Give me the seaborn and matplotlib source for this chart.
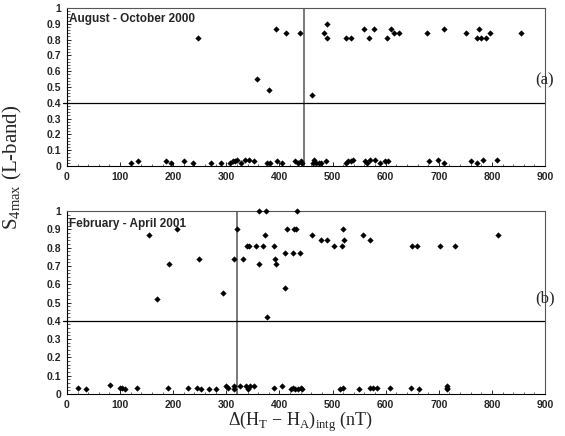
import numpy as np
import pandas as pd
import matplotlib
matplotlib.use("Agg")
import matplotlib.pyplot as plt
import seaborn as sns
from matplotlib.ticker import MultipleLocator, FuncFormatter

# panel (a): August - October 2000
a_x_high = [246, 357, 381, 393, 413, 438, 462, 484, 489, 489, 526, 534, 560, 568, 578,
            603, 610, 616, 625, 677, 710, 752, 776, 772, 779, 788, 796, 854]
a_y_high = [0.81, 0.55, 0.48, 0.87, 0.84, 0.84, 0.45, 0.84, 0.90, 0.81, 0.81, 0.81, 0.87, 0.81, 0.87,
            0.81, 0.87, 0.84, 0.84, 0.84, 0.87, 0.84, 0.87, 0.81, 0.81, 0.81, 0.84, 0.84]
a_x_low = [121, 134, 186, 195, 220, 238, 272, 290, 307, 312, 316, 320, 328, 336, 343, 352,
           376, 383, 396, 404, 430, 434, 440, 443, 465, 464, 469, 474, 478, 487, 525, 529,
           534, 539, 561, 564, 570, 579, 589, 599, 604, 682, 699, 710, 760, 772, 783, 809]
a_y_low = [0.02, 0.03, 0.03, 0.02, 0.03, 0.02, 0.02, 0.02, 0.02, 0.03, 0.03, 0.04, 0.02, 0.04, 0.04, 0.03,
           0.02, 0.02, 0.03, 0.02, 0.03, 0.02, 0.03, 0.02, 0.04, 0.02, 0.02, 0.02, 0.02, 0.03, 0.02, 0.03,
           0.03, 0.04, 0.03, 0.02, 0.04, 0.04, 0.02, 0.03, 0.03, 0.03, 0.04, 0.02, 0.03, 0.02, 0.04, 0.04]

# panel (b): February - April 2001
b_x_high = [154, 170, 192, 207, 248, 293, 315, 320, 331, 339, 343, 355, 361, 361, 369, 372,
            374, 376, 389, 391, 393, 411, 411, 414, 425, 427, 431, 433, 438, 461, 479, 489,
            503, 517, 520, 521, 557, 570, 649, 659, 703, 730, 811]
b_y_high = [0.87, 0.52, 0.71, 0.90, 0.74, 0.55, 0.74, 0.90, 0.74, 0.81, 0.81, 0.81, 1.00, 0.71, 0.81, 0.87,
            1.00, 0.42, 0.81, 0.74, 0.71, 0.58, 0.77, 0.90, 0.77, 0.90, 0.90, 1.00, 0.77, 0.87, 0.84, 0.84,
            0.81, 0.81, 0.90, 0.84, 0.87, 0.84, 0.81, 0.81, 0.81, 0.81, 0.87]
b_x_low = [21, 35, 81, 100, 104, 110, 131, 190, 227, 244, 253, 267, 280, 300, 304, 314, 315,
           326, 337, 340, 344, 352, 389, 405, 421, 425, 429, 435, 441, 443, 514, 519, 550,
           570, 577, 584, 609, 648, 662, 716, 716, 715]
b_y_low = [0.035, 0.03, 0.05, 0.035, 0.035, 0.03, 0.035, 0.035, 0.035, 0.035, 0.03, 0.03, 0.03, 0.045, 0.035, 0.045, 0.03,
           0.045, 0.045, 0.03, 0.045, 0.045, 0.035, 0.045, 0.03, 0.035, 0.03, 0.03, 0.035, 0.03, 0.03, 0.035, 0.03,
           0.035, 0.035, 0.035, 0.035, 0.035, 0.03, 0.035, 0.045, 0.03]

a_threshold_x = 446
b_threshold_x = 320
s4_threshold = 0.4

sns.set_style("white")
plt.rcParams['font.family'] = ['Liberation Sans', 'DejaVu Sans']
plt.rcParams['mathtext.fontset'] = 'custom'
plt.rcParams['mathtext.rm'] = 'Liberation Serif'
serif = ["Liberation Serif", "DejaVu Serif"]

fig = plt.figure(figsize=(5.65, 4.36), dpi=100)
ax1 = fig.add_axes([67 / 565, 1 - 166 / 436, 478 / 565, 158 / 436])
ax2 = fig.add_axes([67 / 565, 1 - 394 / 436, 478 / 565, 183 / 436])

panels = [
    (ax1, a_x_high + a_x_low, a_y_high + a_y_low, a_threshold_x, "August - October 2000", "(a)", 0.54),
    (ax2, b_x_high + b_x_low, b_y_high + b_y_low, b_threshold_x, "February - April 2001", "(b)", 0.52),
]

fmt = FuncFormatter(lambda v, p: "0" if abs(v) < 1e-9 else ("1" if abs(v - 1) < 1e-9 else f"{v:.1f}"))

for ax, xs, ys, xv, title, tag, tag_y in panels:
    df = pd.DataFrame({"x": xs, "y": ys})
    sns.scatterplot(data=df, x="x", y="y", ax=ax, marker="D", s=8, color="black",
                    edgecolor="black", linewidth=0.3, clip_on=False, zorder=3)
    ax.set_xlim(0, 900)
    ax.set_ylim(0, 1)
    ax.axvline(xv, color="#6e6e6e", lw=1.3, zorder=2)
    ax.plot([-8, 900], [s4_threshold, s4_threshold], color="black", lw=0.9, clip_on=False, zorder=2)
    ax.xaxis.set_major_locator(MultipleLocator(100))
    ax.xaxis.set_minor_locator(MultipleLocator(20))
    ax.yaxis.set_major_locator(MultipleLocator(0.1))
    ax.yaxis.set_minor_locator(MultipleLocator(0.02))
    ax.yaxis.set_major_formatter(fmt)
    ax.tick_params(which="major", direction="in", length=3, width=0.7, labelsize=7.5,
                   bottom=True, left=True, pad=4)
    ax.tick_params(which="minor", direction="in", length=1.8, width=0.5, bottom=True, left=True)
    for lab in ax.get_xticklabels() + ax.get_yticklabels():
        lab.set_fontweight("bold")
    for sp in ax.spines.values():
        sp.set_color("#555555")
        sp.set_linewidth(0.8)
    ax.spines["left"].set_color("black")
    ax.spines["bottom"].set_color("black")
    ax.set_xlabel("")
    ax.set_ylabel("")
    ax.text(0.005, 0.93, title, transform=ax.transAxes, fontsize=8.5, fontweight="bold",
            ha="left", va="center")
    ax.text(1.0, tag_y, tag, transform=ax.transAxes, fontsize=12,
            family=serif, ha="center", va="center", zorder=4)

fig.text(12 / 565, 1 - 167 / 436, r"S$_{4\mathrm{max}}$ (L-band)", rotation=90,
         family=serif, fontsize=15, ha="center", va="center")
fig.text(300 / 565, 1 - 422 / 436, r"$\Delta$(H$_\mathrm{T}$ $-$ H$_\mathrm{A}$)$_\mathrm{intg}$ (nT)",
         family=serif, fontsize=13, ha="center", va="center")

fig.savefig("out.png", dpi=100)
